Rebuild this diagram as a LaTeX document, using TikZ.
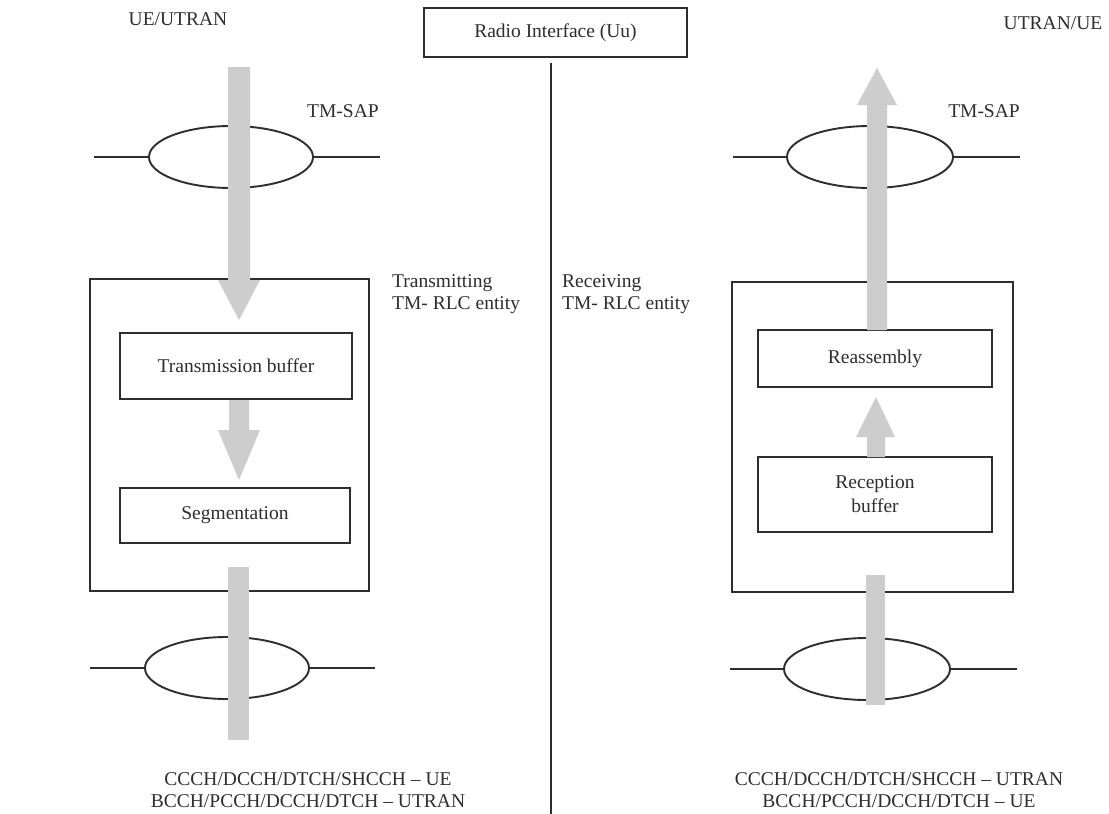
\documentclass[tikz,border=0pt]{standalone}
\usepackage{fontspec}
\setmainfont{Liberation Serif}
\usetikzlibrary{shapes.geometric}
\definecolor{ink}{HTML}{2E2E2E}
\definecolor{strip}{HTML}{CDCDCD}
\begin{document}
\begin{tikzpicture}[x=1pt,y=-1pt,
  txt/.style={font=\fontsize{19.5}{22}\selectfont, text=ink, inner sep=0pt},
  boxline/.style={draw=ink, line width=1.9pt},
  innerbox/.style={boxline, rectangle, inner sep=0pt, font=\fontsize{19.5}{22}\selectfont, text=ink, align=center},
  sap/.style={boxline, ellipse, inner sep=0pt},
  fatarrow/.style={fill=strip, draw=none}]
\useasboundingbox (0,0) rectangle (1109,814);
\fill[white] (0,0) rectangle (1109,814);

% radio interface
\node[innerbox, minimum width=263pt, minimum height=49pt] (radio) at (555.5,32.5) {Radio Interface (Uu)};
\coordinate (lineend) at (551,814);
\draw[ink, line width=1.6pt] (551,63) -- (lineend);

% headings
\node[txt] (ueutran) at (178,19) {UE/UTRAN};
\node[txt] (utranue) at (1053,23) {UTRAN/UE};
\node[txt] (sapL) at (343,111) {TM-SAP};
\node[txt] (sapR) at (984,111) {TM-SAP};
\node[txt, anchor=north west, align=left] (txL) at (392,274) {Transmitting\\TM- RLC entity};
\node[txt, anchor=north west, align=left] (rxL) at (562,274) {Receiving\\TM- RLC entity};

% ellipses with lines
\node[sap, minimum width=164pt, minimum height=62pt] (eLT) at (231,157) {};
\node[sap, minimum width=166pt, minimum height=62pt] (eRT) at (870,157) {};
\node[sap, minimum width=164pt, minimum height=62pt] (eLB) at (227,668) {};
\node[sap, minimum width=166pt, minimum height=62pt] (eRB) at (867,669) {};
\coordinate (lLT) at (94,157);  \coordinate (rLT) at (380,157);
\coordinate (lRT) at (733,157); \coordinate (rRT) at (1020,157);
\coordinate (lLB) at (90,668);  \coordinate (rLB) at (375,668);
\coordinate (lRB) at (730,669); \coordinate (rRB) at (1017,669);
\draw[boxline] (lLT) -- (eLT.west) (eLT.east) -- (rLT);
\draw[boxline] (lRT) -- (eRT.west) (eRT.east) -- (rRT);
\draw[boxline] (lLB) -- (eLB.west) (eLB.east) -- (rLB);
\draw[boxline] (lRB) -- (eRB.west) (eRB.east) -- (rRB);

% big boxes
\node[boxline, rectangle, minimum width=279pt, minimum height=312pt, inner sep=0pt] (bigL) at (229.5,435) {};
\node[boxline, rectangle, minimum width=281pt, minimum height=310pt, inner sep=0pt] (bigR) at (872.5,437) {};

% inner boxes
\node[innerbox, minimum width=232pt, minimum height=66pt] (txbuf) at (236,366) {Transmission buffer};
\node[innerbox, minimum width=230pt, minimum height=55pt] (seg) at (235,515.5) {Segmentation};
\node[innerbox, minimum width=234pt, minimum height=57pt] (reasm) at (875,358.5) {Reassembly};
\node[innerbox, minimum width=234pt, minimum height=75pt] (rxbuf) at (875,494.5) {Reception\\[2pt]buffer};

% fat gray arrows (left, downward)
\fill[fatarrow] (228,67) -- (250,67) -- (250,280) -- (260,280) -- (239,320) -- (218,280) -- (228,280) -- cycle;
\fill[fatarrow] (229,400) -- (249,400) -- (249,430) -- (260,430) -- (239,480) -- (218,430) -- (229,430) -- cycle;
\fill[fatarrow] (228,567) rectangle (249,740);
% fat gray arrows (right, upward)
\fill[fatarrow] (867,330) -- (887,330) -- (887,105) -- (897,105) -- (877,68) -- (857,105) -- (867,105) -- cycle;
\fill[fatarrow] (867,457) -- (885,457) -- (885,437) -- (895,437) -- (876,397) -- (856,437) -- (867,437) -- cycle;
\fill[fatarrow] (866,575) rectangle (885,705);

% channel labels
\node[txt, align=center] (chL) at (308,790) {CCCH/DCCH/DTCH/SHCCH -- UE\\BCCH/PCCH/DCCH/DTCH -- UTRAN};
\node[txt, align=center] (chR) at (899,790) {CCCH/DCCH/DTCH/SHCCH -- UTRAN\\BCCH/PCCH/DCCH/DTCH -- UE};
\end{tikzpicture}
\end{document}
